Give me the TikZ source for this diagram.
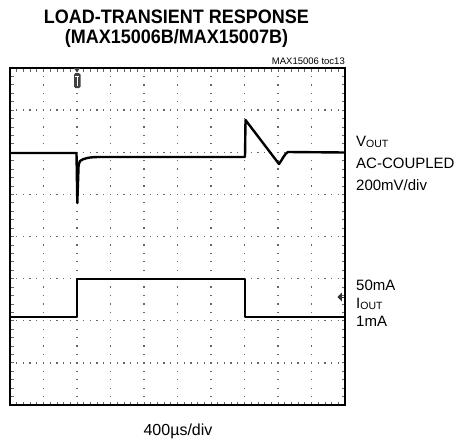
\documentclass[tikz,border=0pt]{standalone}
\usepackage{fontspec}
\setmainfont{Liberation Sans}
\usepackage{tikz}
\usetikzlibrary{positioning}

\begin{document}
\begin{tikzpicture}[x=1pt,y=-1pt]
\tikzstyle{frame}=[draw,line width=2pt]
\tikzstyle{gdot}=[fill=black!60]
\tikzstyle{tick}=[draw=black!60,line width=0.8pt]
\tikzstyle{trace}=[line width=2.4pt,line join=round]
\tikzstyle{lbl}=[anchor=base west,inner sep=0pt,font=\fontsize{15}{18}\selectfont]
\tikzstyle{ttl}=[anchor=base,inner sep=0pt,font=\fontsize{18}{20}\selectfont\bfseries]
\useasboundingbox (0,0) rectangle (457,440);
% dotted grid
\foreach \k in {1,...,7} {
  \foreach \j in {1,...,49} {
    \fill[gdot] ({10+6.7*\j-0.65},{68+42.125*\k-0.65}) rectangle +(1.3,1.3);
  }
}
\foreach \i in {1,...,9} {
  \foreach \j in {1,...,39} {
    \fill[gdot] ({10+33.5*\i-0.65},{68+8.425*\j-0.65}) rectangle +(1.3,1.3);
  }
}
% border ticks
\foreach \j in {1,...,49} {
  \draw[tick] ({10+6.7*\j},68) -- ({10+6.7*\j},71.5);
  \draw[tick] ({10+6.7*\j},405) -- ({10+6.7*\j},401.5);
}
\foreach \j in {1,...,39} {
  \draw[tick] (10,{68+8.425*\j}) -- (13.5,{68+8.425*\j});
  \draw[tick] (345,{68+8.425*\j}) -- (341.5,{68+8.425*\j});
}
\draw[frame] (10,68) rectangle (345,405);
% trigger marker
\fill[black!75] (74,68) -- (80,68) -- (77,72.5) -- cycle;
\fill[black!75,rounded corners=1.5pt] (74,73) rectangle (80.5,88);
\draw[white,line width=1pt] (75.3,76) -- (79.2,76) (77.25,76) -- (77.25,85.5);
% ground marker
\fill[black!80] (337.5,297) -- (341.8,292.5) -- (341.8,301.5) -- cycle;
\draw[black!80,line width=1pt] (341.8,297) -- (344,297);
% traces
\draw[trace] (10,153) -- (76.5,153) -- (77.3,203) -- (78.6,165) -- (80,161)
  .. controls (84,158) and (90,157) .. (100,157) -- (245,157) -- (245.5,120)
  -- (279,164) .. controls (282,160) and (285,153) .. (288,152) -- (345,152.5);
\draw[trace] (10,317) -- (77,317) -- (77,279) -- (245,279) -- (245,317) -- (345,317);
% texts
\node[ttl] (title) at (176.5,23.3) {\scalebox{1}[1.08]{LOAD-TRANSIENT RESPONSE}};
\node[ttl] (parts) at (176.5,43.3) {\scalebox{1}[1.08]{(MAX15006B/MAX15007B)}};
\node[anchor=base east,inner sep=0pt,font=\fontsize{9.5}{11}\selectfont] (tag) at (345,64.5) {MAX15006 toc13};
\node[lbl] (vout) at (356,146) {V\raisebox{-1pt}{\fontsize{10.5}{12}\selectfont OUT}};
\node[lbl] (coupl) at (356,168) {AC-COUPLED};
\node[lbl] (vdiv) at (356,190) {200mV/div};
\node[lbl] (ihigh) at (356,290) {50mA};
\node[lbl] (iout) at (356,308) {I\raisebox{-1pt}{\fontsize{10.5}{12}\selectfont OUT}};
\node[lbl] (ilow) at (356,326) {1mA};
\node[anchor=base,inner sep=0pt,font=\fontsize{16}{18}\selectfont] (tdiv) at (178,435) {400µs/div};
\end{tikzpicture}
\end{document}
